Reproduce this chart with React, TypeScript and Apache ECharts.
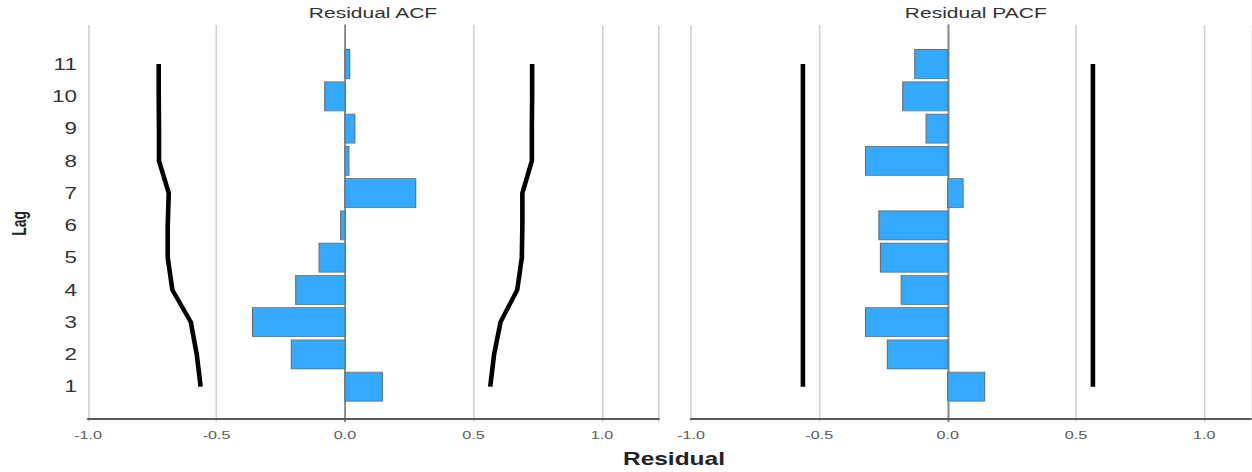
import React, { useEffect, useRef } from "react";
import * as echarts from "echarts";

// ---- data ----
const lags = [1, 2, 3, 4, 5, 6, 7, 8, 9, 10, 11];
const acfValues = [0.145, -0.209, -0.36, -0.192, -0.101, -0.017, 0.275, 0.015, 0.038, -0.079, 0.018];
const acfUpper = [0.565, 0.58, 0.605, 0.67, 0.688, 0.69, 0.69, 0.727, 0.727, 0.728, 0.728];
const acfLower = [-0.562, -0.577, -0.6, -0.672, -0.69, -0.69, -0.686, -0.724, -0.724, -0.725, -0.725];
const pacfValues = [0.144, -0.235, -0.32, -0.181, -0.262, -0.268, 0.06, -0.32, -0.084, -0.175, -0.128];
const pacfUpper = [0.566, 0.566, 0.566, 0.566, 0.566, 0.566, 0.566, 0.566, 0.566, 0.566, 0.566];
const pacfLower = [-0.564, -0.564, -0.564, -0.564, -0.564, -0.564, -0.564, -0.564, -0.564, -0.564, -0.564];
const panelTitles = ["Residual ACF", "Residual PACF"];
const xTitle = "Residual";
const yTitle = "Lag";

const S = 1.4;
const W = 1252;
const H = 472;
const CW = W / S;
const FONT = "'Liberation Sans', Arial, sans-serif";

const pairs = (xs: number[]) => xs.map((v, i) => [v, lags[i]]);

const barRender = (params: any, api: any) => {
  const v = api.value(0);
  const lag = api.value(1);
  const p0 = api.coord([0, lag]);
  const p1 = api.coord([v, lag]);
  const h = api.size([0, 0.9])[1];
  return {
    type: "rect",
    shape: {
      x: Math.min(p0[0], p1[0]),
      y: p0[1] - h / 2,
      width: Math.abs(p1[0] - p0[0]),
      height: h,
    },
    style: { fill: "#33aaff", stroke: "#5f6f7c", lineWidth: 0.8 },
  };
};

export default function App() {
  const ref = useRef<HTMLDivElement>(null);
  useEffect(() => {
    if (!ref.current) return;
    const chart = echarts.init(ref.current, null, { renderer: "svg" });
    const gridTop = 25;
    const gridH = 396.7;
    const mkX = (idx: number, max: number) => ({
      type: "value",
      gridIndex: idx,
      min: -1,
      max,
      interval: 0.5,
      axisLine: { show: true, lineStyle: { color: "#5a5a5a", width: 2 } },
      axisTick: { show: false },
      axisLabel: {
        color: "#5a5a5a",
        fontSize: 11.5,
        fontFamily: FONT,
        margin: 7,
        showMaxLabel: false,
        formatter: (v: number) => v.toFixed(1),
      },
      splitLine: { show: true, lineStyle: { color: "#cfcfcf", width: 1.1 } },
    });
    const mkY = (idx: number, showLabels: boolean) => ({
      type: "value",
      gridIndex: idx,
      min: -0.085,
      max: 12.21,
      name: showLabels ? yTitle : "",
      nameLocation: "middle",
      nameRotate: 90,
      nameGap: 42,
      nameTextStyle: { fontSize: 14, fontWeight: "bold", color: "#222", fontFamily: FONT },
      axisLine: { show: true, lineStyle: { color: "#8a8a8a", width: 1.4 } },
      axisTick: { show: false },
      splitLine: { show: false },
      axisLabel: {
        show: showLabels,
        customValues: lags,
        color: "#333",
        fontSize: 16,
        fontFamily: FONT,
        margin: 8,
      },
    });
    const lineSeries = (idx: number, d: number[]) => ({
      type: "line",
      xAxisIndex: idx,
      yAxisIndex: idx,
      data: pairs(d),
      showSymbol: false,
      symbol: "none",
      lineStyle: { color: "#000", width: 3.3, cap: "butt" },
      z: 5,
    });
    chart.setOption({
      animation: false,
      backgroundColor: "#fff",
      grid: [
        { left: 62.9, width: 407.5, top: gridTop, height: gridH, outerBoundsMode: "none", containLabel: false },
        { left: 493.6, width: 400.7, top: gridTop, height: gridH, outerBoundsMode: "none", containLabel: false },
      ],
      xAxis: [mkX(0, 1.22), mkX(1, 1.186)],
      yAxis: [mkY(0, true), mkY(1, false)],
      series: [
        {
          type: "custom",
          xAxisIndex: 0,
          yAxisIndex: 0,
          data: pairs(acfValues),
          encode: { x: 0, y: 1 },
          renderItem: barRender,
          z: 3,
        },
        {
          type: "custom",
          xAxisIndex: 1,
          yAxisIndex: 1,
          data: pairs(pacfValues),
          encode: { x: 0, y: 1 },
          renderItem: barRender,
          z: 3,
        },
        lineSeries(0, acfUpper),
        lineSeries(0, acfLower),
        lineSeries(1, pacfUpper),
        lineSeries(1, pacfLower),
      ],
      graphic: [
        {
          type: "text",
          x: 266.4,
          y: 13,
          style: {
            text: panelTitles[0],
            align: "center",
            verticalAlign: "middle",
            fontSize: 15,
            fontFamily: FONT,
            fill: "#333",
          },
        },
        {
          type: "text",
          x: 697,
          y: 13,
          style: {
            text: panelTitles[1],
            align: "center",
            verticalAlign: "middle",
            fontSize: 15,
            fontFamily: FONT,
            fill: "#333",
          },
        },
        {
          type: "text",
          x: 481.4,
          y: 459,
          style: {
            text: xTitle,
            align: "center",
            verticalAlign: "middle",
            fontSize: 17.5,
            fontWeight: "bold",
            fontFamily: FONT,
            fill: "#222",
          },
        },
      ],
    });
    return () => chart.dispose();
  }, []);
  return (
    <div
      style={{
        position: "absolute",
        left: 0,
        top: 0,
        width: W,
        height: H,
        overflow: "hidden",
        background: "#fff",
      }}
    >
      <div
        ref={ref}
        style={{
          width: CW,
          height: H,
          transform: `scaleX(${S})`,
          transformOrigin: "0 0",
        }}
      />
    </div>
  );
}
